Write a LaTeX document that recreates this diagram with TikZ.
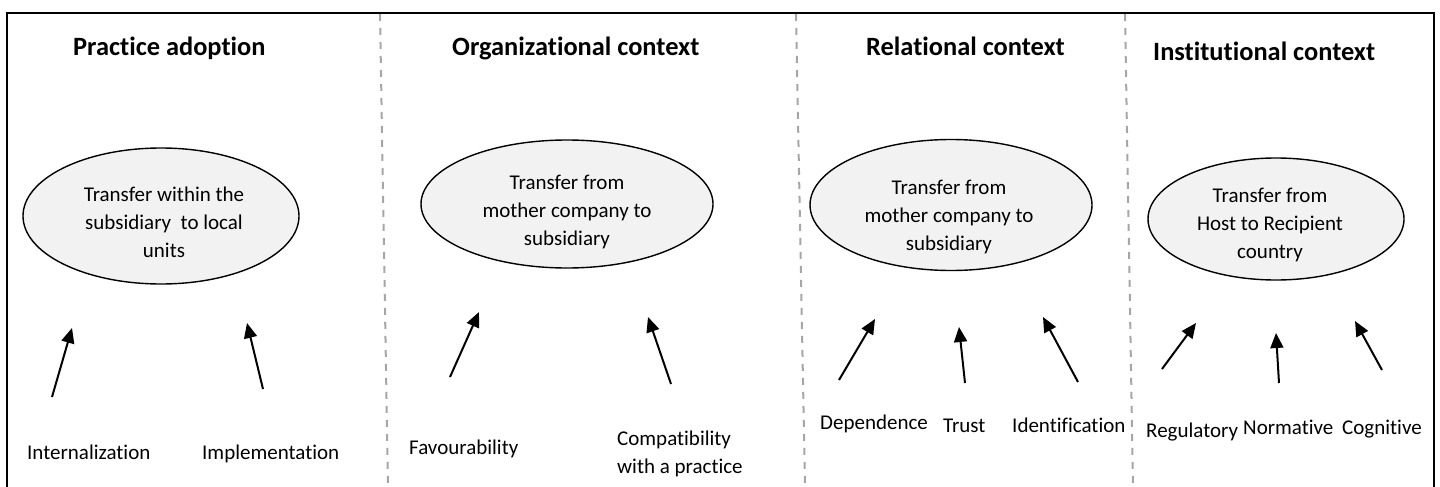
\documentclass[tikz,border=0pt]{standalone}
\usepackage{fontspec}
\setmainfont{Carlito}[Ligatures=NoCommon]
\usepackage{tikz}
\usetikzlibrary{shapes.geometric, arrows.meta}

\tikzset{
  heading/.style = {anchor=base west, inner sep=0pt, font=\fontsize{26.4}{32}\selectfont\bfseries},
  factor/.style = {anchor=base west, inner sep=0pt, align=left, font=\fontsize{21}{28}\selectfont},
  transfer/.style = {ellipse, draw, line width=1.4, fill=black!5, inner sep=0pt},
  inside/.style = {inner sep=0pt, align=center, font=\fontsize{21}{28}\selectfont},
  push/.style = {line width=2, -{Triangle[length=15pt,width=13pt]}},
  divider/.style = {draw=black!35, line width=2, dash pattern=on 7pt off 7pt}
}

\begin{document}
\begin{tikzpicture}[x=1pt, y=-1pt]
\useasboundingbox (0,0) rectangle (1440,487);
% frame and column separators
\draw[line width=2] (7,495) -- (7,13) -- (1434,13) -- (1434,495);
\draw[divider] (380,14) -- (388,487);
\draw[divider] (796,14) -- (805,487);
\draw[divider] (1125,14) -- (1133,487);

% headings
\node[heading] (adoption) at (73,56) {Practice adoption};
\node[heading] (organizational) at (452,56) {Organizational context};
\node[heading] (relational) at (866,56) {Relational context};
\node[heading] (institutional) at (1153,61) {Institutional context};

% transfers
\node[transfer, minimum width=276pt, minimum height=136pt] (withinE) at (161,216) {};
\node[inside] (withinT) at (164,222) {Transfer within the\\subsidiary~ to local\\units};
\node[transfer, minimum width=292pt, minimum height=128pt] (motherE) at (567,204) {};
\node[inside] (motherT) at (567,212) {Transfer from\\mother company to\\subsidiary};
\node[transfer, minimum width=282pt, minimum height=131pt] (relE) at (951,205) {};
\node[inside] (relT) at (949,217) {Transfer from\\mother company to\\subsidiary};
\node[transfer, minimum width=256pt, minimum height=122pt] (hostE) at (1276,219) {};
\node[inside] (hostT) at (1270,225) {Transfer from\\Host to Recipient\\country};

% factors
\node[factor] (internal) at (27,459) {Internalization};
\node[factor] (implement) at (202,459) {Implementation};
\node[factor] (favour) at (409,454) {Favourability};
\node[factor] (compat) at (617,473) {Compatibility\\with a practice};
\node[factor] (depend) at (820,429) {Dependence};
\node[factor] (trust) at (943,432) {Trust};
\node[factor] (ident) at (1012,432) {Identification};
\node[factor] (regul) at (1146,437) {Regulatory};
\node[factor] (norm) at (1243,434) {Normative};
\node[factor] (cogn) at (1342,434) {Cognitive};

% arrows
\coordinate (int0) at (52,397);   \coordinate (int1) at (72,328);
\coordinate (imp0) at (263,389);  \coordinate (imp1) at (247,323);
\coordinate (fav0) at (450,377);  \coordinate (fav1) at (479,312);
\coordinate (com0) at (671,384);  \coordinate (com1) at (648,317);
\coordinate (dep0) at (839,380);  \coordinate (dep1) at (875,319);
\coordinate (tru0) at (965,383);  \coordinate (tru1) at (959,327);
\coordinate (ide0) at (1078,382); \coordinate (ide1) at (1043,317);
\coordinate (reg0) at (1162,369); \coordinate (reg1) at (1196,323);
\coordinate (nor0) at (1279,383); \coordinate (nor1) at (1276,333);
\coordinate (cog0) at (1382,370); \coordinate (cog1) at (1355,321);
\foreach \n in {int,imp,fav,com,dep,tru,ide,reg,nor,cog}
  \draw[push] (\n0) -- (\n1);
\end{tikzpicture}
\end{document}
